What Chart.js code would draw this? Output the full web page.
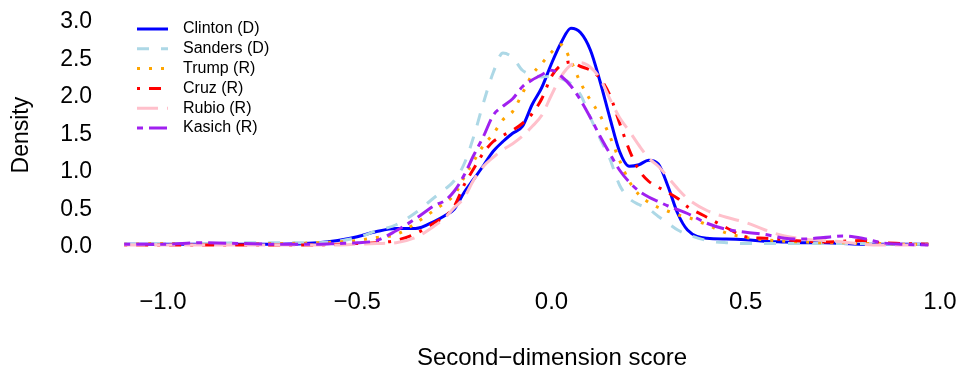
<!DOCTYPE html>
<html>
<head>
<meta charset="utf-8">
<script src="https://cdn.jsdelivr.net/npm/chart.js@4.4.1/dist/chart.umd.min.js"></script>
<style>
  html, body { margin: 0; padding: 0; background: #fff; }
  canvas { display: block; }
</style>
</head>
<body>
<canvas id="chart" width="972" height="376"></canvas>
<script>
'use strict';

// puntos de la rejilla (second-dimension score)
const X = [-1.1, -1.0, -0.9, -0.8, -0.7, -0.6, -0.55, -0.5, -0.45, -0.4, -0.35, -0.3,
    -0.275, -0.25, -0.225, -0.2, -0.175, -0.15, -0.125, -0.1, -0.075, -0.05, -0.025,
    0, 0.025, 0.05, 0.075, 0.1, 0.125, 0.15, 0.175, 0.2, 0.225, 0.25, 0.275, 0.3, 0.325, 0.35,
    0.4, 0.45, 0.5, 0.55, 0.6, 0.65, 0.7, 0.75, 0.8, 0.85, 0.9, 0.97];

const CLINTON = [0.01, 0.01, 0.01, 0.01, 0.01, 0.03, 0.06, 0.11, 0.18, 0.22, 0.22, 0.32,
    0.39, 0.48, 0.70, 0.88, 1.06, 1.25, 1.38, 1.49, 1.58, 1.87, 2.10,
    2.42, 2.70, 2.89, 2.83, 2.60, 2.18, 1.70, 1.25, 1.05, 1.07, 1.13, 1.08, 0.78, 0.42, 0.20,
    0.09, 0.08, 0.07, 0.05, 0.04, 0.03, 0.03, 0.02, 0.01, 0.01, 0.01, 0.01];

const SANDERS = [0.01, 0.02, 0.02, 0.03, 0.03, 0.03, 0.05, 0.10, 0.19, 0.27, 0.43, 0.64,
    0.74, 0.86, 1.08, 1.45, 1.90, 2.30, 2.56, 2.50, 2.33, 2.27, 2.24,
    2.25, 2.22, 2.15, 2.00, 1.70, 1.42, 1.15, 0.80, 0.62, 0.54, 0.48, 0.38, 0.29, 0.20, 0.14,
    0.06, 0.03, 0.02, 0.02, 0.02, 0.02, 0.02, 0.02, 0.02, 0.01, 0.01, 0.01];

const TRUMP = [0.01, 0.02, 0.02, 0.02, 0.02, 0.03, 0.04, 0.06, 0.10, 0.14, 0.29, 0.47,
    0.56, 0.67, 0.90, 1.12, 1.33, 1.48, 1.67, 1.78, 2.02, 2.27, 2.42,
    2.57, 2.67, 2.45, 2.16, 1.93, 1.73, 1.45, 1.13, 0.85, 0.67, 0.57, 0.50, 0.45, 0.40, 0.37,
    0.27, 0.16, 0.10, 0.07, 0.05, 0.04, 0.03, 0.03, 0.02, 0.02, 0.01, 0.01];

const CRUZ = [0, 0, 0, 0, 0, 0, 0.01, 0.02, 0.03, 0.06, 0.15, 0.30,
    0.38, 0.52, 0.80, 1.02, 1.23, 1.38, 1.46, 1.53, 1.62, 1.75, 1.95,
    2.25, 2.40, 2.44, 2.38, 2.33, 2.22, 2.00, 1.63, 1.27, 1.00, 0.85, 0.77, 0.70, 0.62, 0.51,
    0.37, 0.23, 0.11, 0.09, 0.07, 0.05, 0.04, 0.05, 0.06, 0.03, 0.02, 0.01];

const RUBIO = [0, 0, 0, 0, 0, 0, 0, 0.01, 0.02, 0.03, 0.10, 0.26,
    0.36, 0.50, 0.63, 0.87, 1.05, 1.17, 1.27, 1.35, 1.45, 1.58, 1.73,
    2.00, 2.25, 2.40, 2.43, 2.37, 2.22, 1.95, 1.70, 1.52, 1.33, 1.16, 1.05, 0.90, 0.75, 0.62,
    0.46, 0.37, 0.30, 0.20, 0.12, 0.08, 0.06, 0.04, 0.01, 0, 0, 0];

const KASICH = [0.01, 0.01, 0.03, 0.02, 0.01, 0.01, 0.02, 0.03, 0.06, 0.19, 0.35, 0.53,
    0.59, 0.72, 0.93, 1.20, 1.45, 1.73, 1.85, 1.95, 2.11, 2.20, 2.27,
    2.33, 2.25, 2.12, 1.93, 1.70, 1.45, 1.22, 1.00, 0.84, 0.72, 0.64, 0.58, 0.52, 0.47, 0.42,
    0.29, 0.21, 0.17, 0.14, 0.09, 0.08, 0.10, 0.12, 0.09, 0.03, 0.01, 0];

const X_TICKS = [-1.0, -0.5, 0.0, 0.5, 1.0];
const Y_TICKS = [0.0, 0.5, 1.0, 1.5, 2.0, 2.5, 3.0];

const FUENTE = "'Liberation Sans', Arial, sans-serif";

const SERIES = [
    { label: 'Clinton (D)', data: CLINTON, color: '#0000ff', dash: [] },
    { label: 'Sanders (D)', data: SANDERS, color: '#add8e6', dash: [12, 12] },
    { label: 'Trump (R)', data: TRUMP, color: '#ffa500', dash: [3, 9] },
    { label: 'Cruz (R)', data: CRUZ, color: '#ff0000', dash: [3, 9, 12, 9] },
    { label: 'Rubio (R)', data: RUBIO, color: '#ffc0cb', dash: [21, 9] },
    { label: 'Kasich (R)', data: KASICH, color: '#a020f0', dash: [6, 6, 18, 6] },
];

const fmt = (v) => (v < 0 ? '\u2212' : '') + Math.abs(v).toFixed(1);

// leyenda al estilo de R y titulo del eje x, dibujados a mano
const leyendaR = {
    id: 'leyendaR',
    afterDraw(chart) {
        const { ctx } = chart;
        ctx.save();
        ctx.font = `16px ${FUENTE}`;
        ctx.textBaseline = 'middle';
        ctx.textAlign = 'left';
        SERIES.forEach((s, i) => {
            const y = 29 + i * 19.8;
            ctx.beginPath();
            ctx.strokeStyle = s.color;
            ctx.lineWidth = 3;
            ctx.lineCap = 'butt';
            ctx.setLineDash(s.dash);
            ctx.moveTo(137, y);
            ctx.lineTo(168, y);
            ctx.stroke();
            ctx.setLineDash([]);
            ctx.fillStyle = '#000';
            ctx.fillText(s.label, 183, y);
        });

        ctx.font = `24px ${FUENTE}`;
        ctx.textAlign = 'center';
        ctx.fillText('Second\u2212dimension score', 552, 358);
        ctx.restore();
    },
};

new Chart(document.getElementById('chart'), {
    type: 'line',
    data: {
        datasets: SERIES.map((s, i) => ({
            label: s.label,
            data: X.map((x, j) => ({ x, y: s.data[j] })),
            borderColor: s.color,
            borderDash: s.dash,
            borderWidth: 3,
            borderCapStyle: 'butt',
            pointRadius: 0,
            cubicInterpolationMode: 'monotone',
            fill: false,
            order: SERIES.length - i,
        })),
    },
    options: {
        responsive: false,
        animation: false,
        devicePixelRatio: 1,
        layout: { padding: { top: 16.25, right: 8.7, bottom: 0, left: 0 } },
        plugins: { legend: { display: false }, tooltip: { enabled: false } },
        scales: {
            x: {
                type: 'linear',
                min: -1.18,
                max: 1.06,
                grid: { display: false, drawTicks: false },
                border: { display: false },
                afterBuildTicks: (scale) => { scale.ticks = X_TICKS.map((v) => ({ value: v })); },
                afterFit: (scale) => {
                    scale.height = 122;
                    scale.paddingLeft = 0;
                    scale.paddingRight = 0;
                },
                ticks: {
                    autoSkip: false,
                    maxRotation: 0,
                    padding: 34,
                    color: '#000',
                    font: { family: FUENTE, size: 24 },
                    callback: (v) => fmt(v),
                },
                title: { display: false },
            },
            y: {
                type: 'linear',
                min: -0.12,
                max: 3.05,
                grid: { display: false, drawTicks: false },
                border: { display: false },
                afterBuildTicks: (scale) => { scale.ticks = Y_TICKS.map((v) => ({ value: v })); },
                afterFit: (scale) => {
                    scale.width = 93.1;
                    scale.paddingTop = 0;
                    scale.paddingBottom = 0;
                },
                ticks: {
                    autoSkip: false,
                    padding: 1,
                    labelOffset: 2,
                    color: '#000',
                    font: { family: FUENTE, size: 23 },
                    callback: (v) => fmt(v),
                },
                title: {
                    display: true,
                    text: 'Density',
                    color: '#000',
                    font: { family: FUENTE, size: 23, lineHeight: 1.2 },
                    padding: { top: 8, bottom: 0 },
                },
            },
        },
    },
    plugins: [leyendaR],
});
</script>
</body>
</html>
